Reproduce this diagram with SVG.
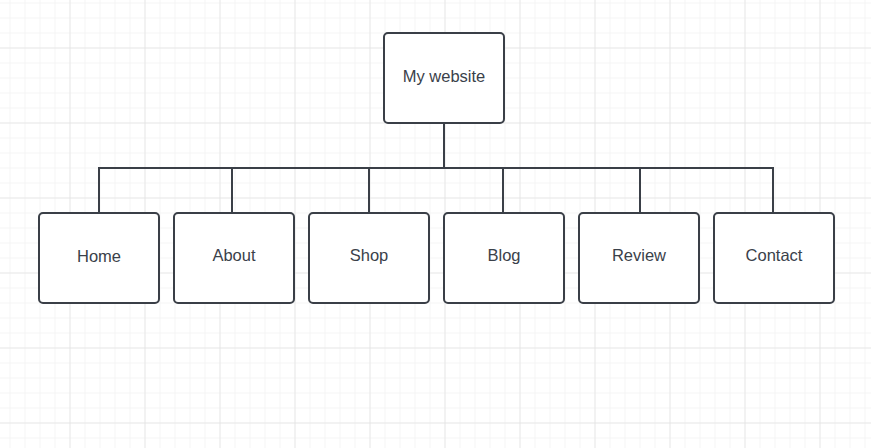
<svg xmlns="http://www.w3.org/2000/svg" width="871" height="448" viewBox="0 0 871 448">
  <defs>
    <pattern id="minor" x="9.5" y="2.5" width="15" height="15" patternUnits="userSpaceOnUse">
      <path d="M0 0H15M0 0V15" fill="none" stroke="#ececec" stroke-width="1"/>
    </pattern>
    <pattern id="major" x="69.5" y="47.5" width="75" height="75" patternUnits="userSpaceOnUse">
      <path d="M0 0H75M0 0V75" fill="none" stroke="#dcdcdc" stroke-width="1"/>
    </pattern>
    <style>
      .box { fill: #ffffff; stroke: #3a3f47; stroke-width: 2; }
      .label { font-family: "Liberation Sans", Arial, sans-serif; font-size: 16.5px; fill: #3a414a; text-anchor: middle; }
      .wire { fill: none; stroke: #3a3f47; stroke-width: 2; }
    </style>
  </defs>

  <!-- canvas grid -->
  <rect width="871" height="448" fill="#ffffff"/>
  <rect width="871" height="448" fill="url(#minor)"/>
  <rect width="871" height="448" fill="url(#major)"/>

  <!-- connectors -->
  <g id="connectors">
    <path class="wire" d="M444 123V168"/>
    <path class="wire" d="M99 213V168H773V213"/>
    <path class="wire" d="M232 168V213"/>
    <path class="wire" d="M369 168V213"/>
    <path class="wire" d="M503 168V213"/>
    <path class="wire" d="M640 168V213"/>
  </g>

  <g id="node-root">
    <rect class="box" x="384" y="33" width="120" height="90" rx="4"/>
    <text class="label" x="444" y="81.5">My website</text>
  </g>
  <g id="node-home">
    <rect class="box" x="39" y="213" width="120" height="90" rx="4"/>
    <text class="label" x="99" y="262">Home</text>
  </g>
  <g id="node-about">
    <rect class="box" x="174" y="213" width="120" height="90" rx="4"/>
    <text class="label" x="234" y="261">About</text>
  </g>
  <g id="node-shop">
    <rect class="box" x="309" y="213" width="120" height="90" rx="4"/>
    <text class="label" x="369" y="261">Shop</text>
  </g>
  <g id="node-blog">
    <rect class="box" x="444" y="213" width="120" height="90" rx="4"/>
    <text class="label" x="504" y="261">Blog</text>
  </g>
  <g id="node-review">
    <rect class="box" x="579" y="213" width="120" height="90" rx="4"/>
    <text class="label" x="639" y="261">Review</text>
  </g>
  <g id="node-contact">
    <rect class="box" x="714" y="213" width="120" height="90" rx="4"/>
    <text class="label" x="774" y="261">Contact</text>
  </g>
</svg>
